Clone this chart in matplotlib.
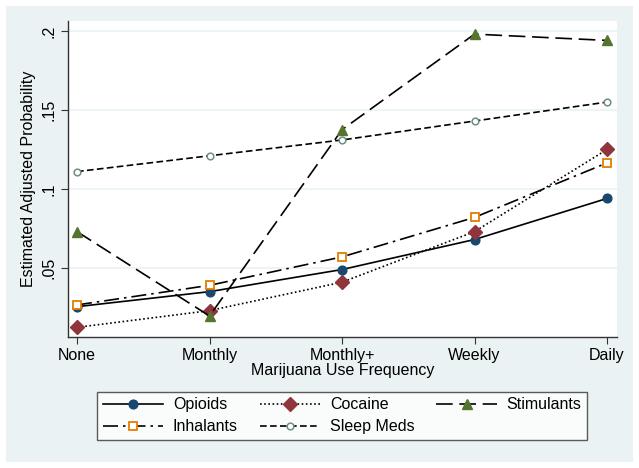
import matplotlib.pyplot as plt
from matplotlib.patches import Rectangle
import numpy as np

plt.rcParams['font.family'] = ['Liberation Sans', 'DejaVu Sans']

categories = ['None', 'Monthly', 'Monthly+', 'Weekly', 'Daily']
opioids = [0.0255, 0.035, 0.049, 0.068, 0.094]
cocaine = [0.0124, 0.023, 0.041, 0.073, 0.125]
stimulants = [0.073, 0.0196, 0.1375, 0.198, 0.194]
inhalants = [0.0266, 0.039, 0.057, 0.082, 0.1165]
sleep_meds = [0.111, 0.121, 0.131, 0.143, 0.155]
yticks = [0.05, 0.1, 0.15, 0.2]
ylabels = ['.05', '.1', '.15', '.2']

fs = 11.5
fig = plt.figure(figsize=(6.39, 4.68), dpi=100)
fig.patches.append(Rectangle((6/639, 6/468), 627/639, 456/468, transform=fig.transFigure,
                             facecolor='#EAF2F3', edgecolor='none', zorder=-10))
ax = fig.add_axes([68/639, 1-337/468, 549/639, 316/468])
x = np.arange(len(categories))

h_op, = ax.plot(x, opioids, color='black', lw=1.2, ls='-', marker='o', ms=6.3,
                mfc='#1a476f', mec='#1a476f', label='Opioids')
h_co, = ax.plot(x, cocaine, color='black', lw=1.2, ls=(0, (1, 1.5)), marker='D', ms=7,
                mfc='#90353b', mec='#90353b', label='Cocaine')
h_st, = ax.plot(x, stimulants, color='black', lw=1.2, ls=(0, (10, 4)), marker='^', ms=7.8,
                mfc='#55752f', mec='#55752f', label='Stimulants')
h_in, = ax.plot(x, inhalants, color='black', lw=1.2, ls=(0, (9, 3, 1.5, 3)), marker='s', ms=5.5,
                mfc='white', mec='#e37e00', mew=1.3, label='Inhalants')
h_sl, = ax.plot(x, sleep_meds, color='black', lw=1.2, ls=(0, (4, 2)), marker='o', ms=4.8,
                mfc='white', mec='#6e8e84', mew=1.1, label='Sleep Meds')

ax.set_xlim(-0.068, 4.075)
ax.set_ylim(0.0063, 0.2063)
ax.set_xticks(x)
ax.set_xticklabels(categories, fontsize=fs)
ax.set_yticks(yticks)
ax.set_yticklabels(ylabels, fontsize=fs, rotation=90, va='center')
ax.grid(axis='y', color='#EAF2F3', lw=1.2)
ax.set_axisbelow(True)
for s in ['top', 'right']:
    ax.spines[s].set_visible(False)
for s in ['left', 'bottom']:
    ax.spines[s].set_color('#333333')
    ax.spines[s].set_linewidth(1.0)
ax.tick_params(direction='out', length=5, color='#333333', pad=3)
ax.set_xlabel('Marijuana Use Frequency', fontsize=fs, labelpad=0)
ax.set_ylabel('Estimated Adjusted Probability', fontsize=fs, labelpad=4)

handles = [h_op, h_in, h_co, h_sl, h_st]
leg = fig.legend(handles=handles, labels=[h.get_label() for h in handles],
                 loc='lower left', bbox_to_anchor=(97/639, 1-440/468, 490/639, 51/468),
                 mode='expand', ncol=3, fontsize=fs, handlelength=3.8, frameon=True,
                 fancybox=False, borderaxespad=0, handletextpad=0.6, labelspacing=0.45,
                 columnspacing=1.5, borderpad=0.35)
leg.get_frame().set_edgecolor('#333333')
leg.get_frame().set_linewidth(1.0)

fig.savefig('out.png', dpi=100, facecolor='white')
